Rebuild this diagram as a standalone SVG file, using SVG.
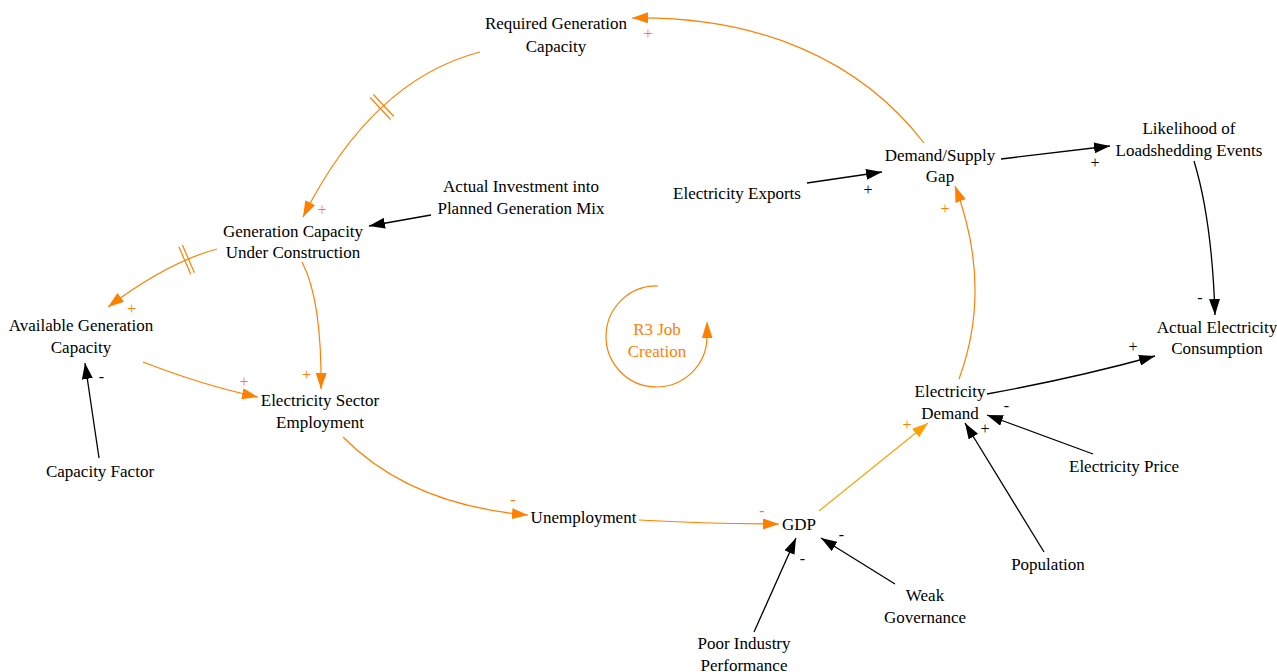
<svg xmlns="http://www.w3.org/2000/svg" width="1277" height="672" viewBox="0 0 1277 672">
<style>
  text { font-family: "Liberation Serif", "Times New Roman", serif; font-size: 17px; fill: #000; text-anchor: middle; }
  .sign { font-size: 16px; }
  .or { fill: #ff8000; }
  .lo { fill: none; stroke: #ff8000; stroke-width: 1.2; }
  .lo2 { fill: none; stroke: #ffa000; stroke-width: 1.2; }
  .lb { fill: none; stroke: #000; stroke-width: 1.3; }
  .dl { stroke: #ff8000; stroke-width: 1.2; }
</style>
<defs>
  <marker id="ab" markerUnits="userSpaceOnUse" markerWidth="16" markerHeight="11" refX="16" refY="5.5" orient="auto">
    <path d="M0,0 L16,5.5 L0,11 z" fill="#000"/>
  </marker>
  <marker id="ao" markerUnits="userSpaceOnUse" markerWidth="16" markerHeight="11" refX="16" refY="5.5" orient="auto">
    <path d="M0,0 L16,5.5 L0,11 z" fill="#ff8000"/>
  </marker>
  <marker id="ao2" markerUnits="userSpaceOnUse" markerWidth="16" markerHeight="11" refX="16" refY="5.5" orient="auto">
    <path d="M0,0 L16,5.5 L0,11 z" fill="#ffa000"/>
  </marker>
</defs>
<rect width="1277" height="672" fill="#fff"/>

<g id="connectors">
  <path class="lo" d="M924,143 C860,60 760,16 632,18" marker-end="url(#ao)"/>
  <path class="lo" d="M480,52 Q372,80 303,217" marker-end="url(#ao)"/>
  <line class="dl" x1="370.2" y1="97.5" x2="390.6" y2="119.5"/>
  <line class="dl" x1="373.4" y1="94.5" x2="393.8" y2="116.5"/>
  <path class="lb" d="M431,215 L369,226" marker-end="url(#ab)"/>
  <path class="lo" d="M217,249 Q168,262 108,307" marker-end="url(#ao)"/>
  <line class="dl" x1="178.8" y1="246.7" x2="190.8" y2="274.3"/>
  <line class="dl" x1="182.4" y1="245.1" x2="194.4" y2="272.7"/>
  <path class="lo" d="M302,262 Q322,300 321,389" marker-end="url(#ao)"/>
  <path class="lo" d="M143,362 Q205,386 258,397" marker-end="url(#ao)"/>
  <path class="lb" d="M99,458 L85,363" marker-end="url(#ab)"/>
  <path class="lo" d="M343,437 Q410,505 528,515" marker-end="url(#ao)"/>
  <path class="lo" d="M639,520 Q710,524 779,524" marker-end="url(#ao)"/>
  <path class="lo2" d="M819,511 Q875,466 928,423" marker-end="url(#ao2)"/>
  <path class="lo" d="M959,379 Q993,287 955,186" marker-end="url(#ao)"/>
  <path class="lb" d="M807,183 L882,172" marker-end="url(#ab)"/>
  <path class="lb" d="M1001,159 L1110,146" marker-end="url(#ab)"/>
  <path class="lb" d="M1194,161 Q1212,220 1215,315" marker-end="url(#ab)"/>
  <path class="lb" d="M987,394 Q1075,378 1155,356" marker-end="url(#ab)"/>
  <path class="lb" d="M1093,454 L987,415" marker-end="url(#ab)"/>
  <path class="lb" d="M1044,552 L965,423" marker-end="url(#ab)"/>
  <path class="lb" d="M895,584 L821,538" marker-end="url(#ab)"/>
  <path class="lb" d="M754,632 L796,538" marker-end="url(#ab)"/>

  <text class="sign or" x="648" y="39">+</text>
  <text class="sign or" x="322" y="215">+</text>
  <text class="sign or" x="131.5" y="313.5">+</text>
  <text class="sign or" x="306.5" y="379.5">+</text>
  <text class="sign or" x="244" y="386.5">+</text>
  <text class="sign" x="101.5" y="382">-</text>
  <text class="sign or" x="513" y="505">-</text>
  <text class="sign or" x="762" y="515.5">-</text>
  <text class="sign or" x="907" y="429.5">+</text>
  <text class="sign or" x="945" y="214">+</text>
  <text class="sign" x="868" y="194.5">+</text>
  <text class="sign" x="1095" y="168">+</text>
  <text class="sign" x="1200" y="303">-</text>
  <text class="sign" x="1133" y="351.5">+</text>
  <text class="sign" x="1006.5" y="410.5">-</text>
  <text class="sign" x="985" y="434">+</text>
  <text class="sign" x="841.5" y="539.5">-</text>
  <text class="sign" x="802.5" y="563.5">-</text>
</g>

<g id="loop-r3">
  <path class="lo" d="M658,286 A50.5,50.5 0 1 0 707,337"/>
  <path d="M707,321 L702,338 L712.5,338 z" fill="#ff8000"/>
  <text class="or" x="657" y="334.5">R3 Job</text>
  <text class="or" x="657" y="356.5">Creation</text>
</g>

<g id="n-required-generation-capacity"><text x="556" y="28.5">Required Generation</text><text x="556" y="51.5">Capacity</text></g>
<g id="n-generation-capacity-under-construction"><text x="293" y="236.5">Generation Capacity</text><text x="293" y="258">Under Construction</text></g>
<g id="n-actual-investment"><text x="521" y="192">Actual Investment into</text><text x="521" y="214">Planned Generation Mix</text></g>
<g id="n-available-generation-capacity"><text x="81" y="330.5">Available Generation</text><text x="81" y="352.5">Capacity</text></g>
<g id="n-electricity-sector-employment"><text x="320" y="405.5">Electricity Sector</text><text x="320" y="427.5">Employment</text></g>
<g id="n-capacity-factor"><text x="100" y="476.5">Capacity Factor</text></g>
<g id="n-unemployment"><text x="583.5" y="523">Unemployment</text></g>
<g id="n-gdp"><text x="799" y="529.5">GDP</text></g>
<g id="n-poor-industry-performance"><text x="744" y="648.5">Poor Industry</text><text x="744" y="670.5">Performance</text></g>
<g id="n-weak-governance"><text x="925" y="600.5">Weak</text><text x="925" y="622.5">Governance</text></g>
<g id="n-population"><text x="1048" y="569.5">Population</text></g>
<g id="n-electricity-price"><text x="1124" y="471.5">Electricity Price</text></g>
<g id="n-electricity-demand"><text x="950" y="397">Electricity</text><text x="950" y="418.5">Demand</text></g>
<g id="n-actual-electricity-consumption"><text x="1217" y="332.5">Actual Electricity</text><text x="1217" y="353.5">Consumption</text></g>
<g id="n-likelihood-of-loadshedding"><text x="1189" y="133.5">Likelihood of</text><text x="1189" y="156">Loadshedding Events</text></g>
<g id="n-demand-supply-gap"><text x="940" y="160.5">Demand/Supply</text><text x="940" y="181.5">Gap</text></g>
<g id="n-electricity-exports"><text x="737" y="198.5">Electricity Exports</text></g>
</svg>
